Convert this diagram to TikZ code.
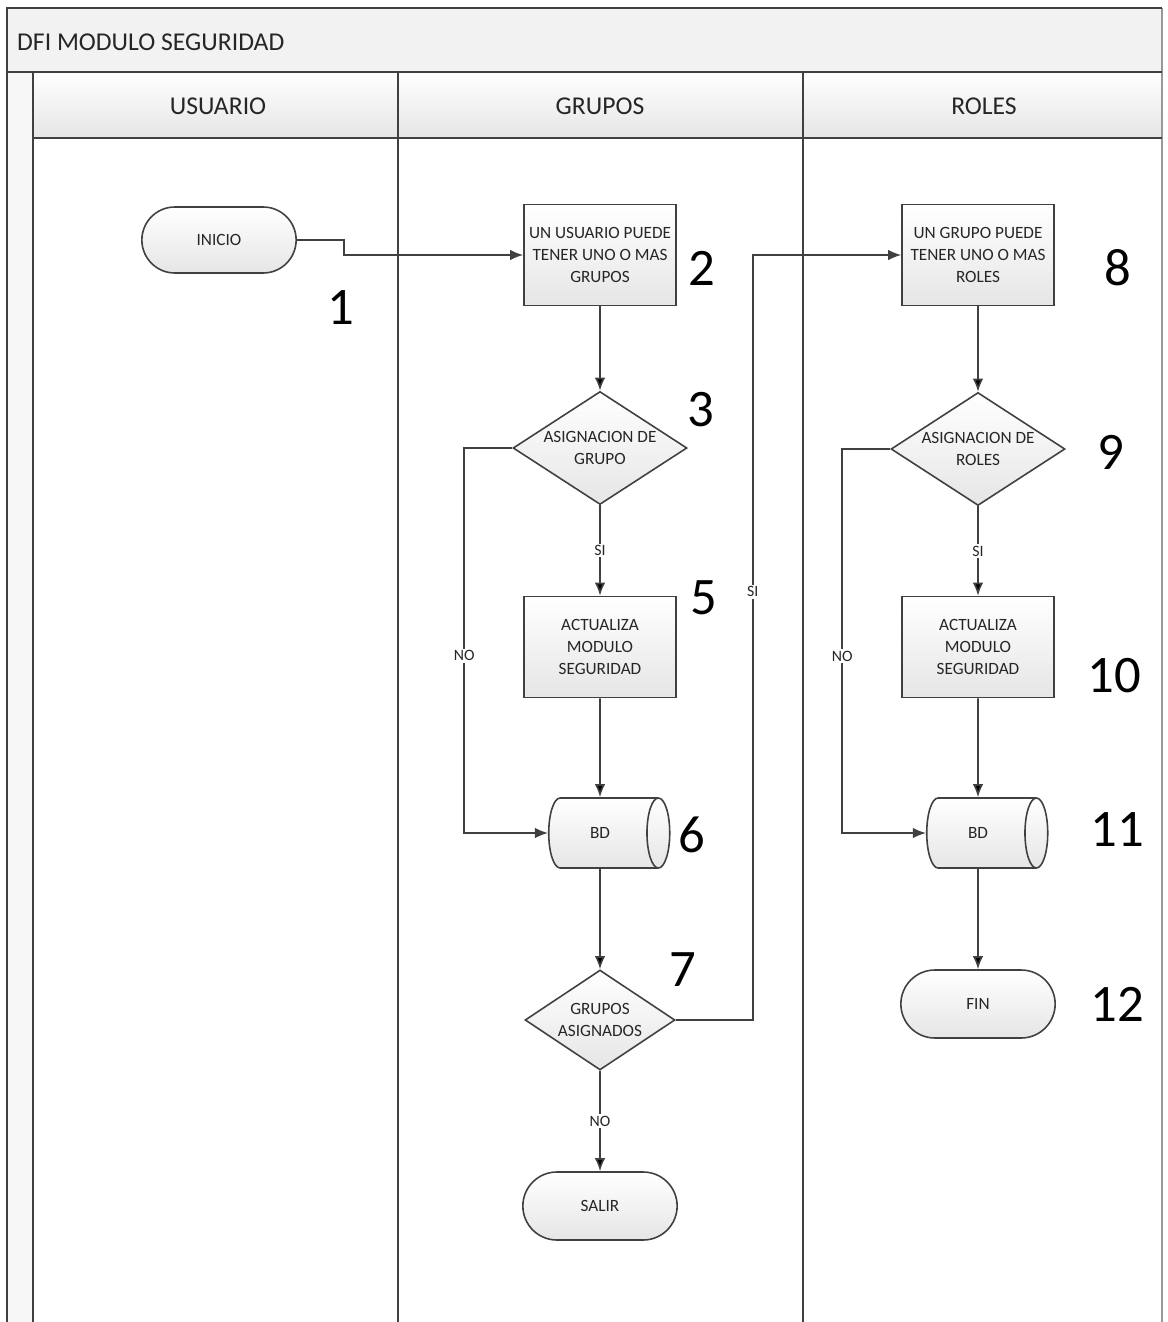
\documentclass[tikz,border=0pt]{standalone}
\usepackage{fontspec}
\setmainfont{Carlito}
\usetikzlibrary{arrows.meta,shapes.geometric,shapes.misc,positioning}

\begin{document}
\begin{tikzpicture}[>={Latex[length=2.6mm,width=2.1mm]}, node distance=3.8cm,
    base/.style={draw=black!75, line width=0.9pt, text=black!85, font=\fontsize{9.8}{12.5}\selectfont, align=center, top color=white, bottom color=black!10},
    proc/.style={base, rectangle, minimum width=3.04cm, minimum height=2.02cm, inner sep=1pt},
    decide/.style={base, diamond, aspect=1.54, minimum width=3.48cm, minimum height=2.26cm, inner sep=0pt},
    term/.style={base, rounded rectangle, minimum width=3.32cm, minimum height=1.32cm},
    store/.style={base, cylinder, shape aspect=1.0, minimum height=2.42cm, minimum width=1.4cm},
    num/.style={font=\fontsize{30}{30}\selectfont},
    lane/.style={text=black!85, font=\fontsize{14.6}{16}\selectfont},
    flow/.style={->, draw=black!75, line width=0.9pt},
    tag/.style={fill=white, inner sep=1pt, text=black!85, font=\fontsize{9}{10}\selectfont}]

    \useasboundingbox (0,0) rectangle (23.34,-26.44);

    % pool and lanes
    \fill[black!5]  (0.14,-0.16) rectangle (23.24,-1.44);
    \fill[black!3]  (0.14,-1.44) rectangle (0.66,-26.6);
    \shade[top color=white, bottom color=black!10] (0.66,-1.44) rectangle (23.24,-2.76);
    \draw[black!40, line width=1pt] (23.24,-0.16) -- (23.24,-26.6);
    \draw[black!75, line width=1pt] (0.14,-26.6) |- (23.24,-0.16)
                                    (0.14,-1.44) -- (23.24,-1.44)
                                    (0.66,-2.76) -- (23.24,-2.76)
                                    (0.66,-1.44) -- (0.66,-26.6)
                                    (7.96,-1.44) -- (7.96,-26.6)
                                    (16.06,-1.44) -- (16.06,-26.6);

    \node[lane, anchor=west] (titulo) at (0.22,-0.84) {DFI MODULO SEGURIDAD};
    \node[lane]              (hUsr)   at (4.36,-2.12)  {USUARIO};
    \node[lane]              (hGrp)   at (12.0,-2.12)  {GRUPOS};
    \node[lane]              (hRol)   at (19.68,-2.12) {ROLES};

    % flow
    \node[term]   (ini)   at (4.38,-4.80)                          {INICIO};
    \node[proc]   (grp)   at (12.0,-5.10)                          {UN USUARIO PUEDE\\TENER UNO O MAS\\GRUPOS};
    \node[decide] (asig)  [below of=grp, node distance=3.86cm]     {ASIGNACION DE\\GRUPO};
    \node[proc]   (act)   [below of=asig, node distance=3.98cm]    {ACTUALIZA\\MODULO\\SEGURIDAD};
    \node[store]  (bdg)   [below of=act, node distance=3.72cm]     {BD};
    \node[decide, minimum width=3cm, minimum height=2cm]
                  (gasig) [below of=bdg, node distance=3.74cm]     {GRUPOS\\ASIGNADOS};
    \node[term, minimum height=1.36cm]
                  (salir) [below of=gasig, node distance=3.72cm]   {SALIR};

    \node[proc]   (rol)   at (19.56,-5.10)                         {UN GRUPO PUEDE\\TENER UNO O MAS\\ROLES};
    \node[decide] (asr)   [below of=rol, node distance=3.88cm]     {ASIGNACION DE\\ROLES};
    \node[proc]   (actr)  [below of=asr, node distance=3.96cm]     {ACTUALIZA\\MODULO\\SEGURIDAD};
    \node[store]  (bdr)   [below of=actr, node distance=3.72cm]    {BD};
    \node[term, minimum height=1.36cm]
                  (fin)   [below of=bdr, node distance=3.42cm]     {FIN};

    % step numbers
    \node[num] (n1)  at (6.82,-6.16)   {1};
    \node[num] (n2)  at (14.04,-5.36)  {2};
    \node[num] (n3)  at (14.02,-8.20)  {3};
    \node[num] (n5)  at (14.08,-11.96) {5};
    \node[num] (n6)  at (13.84,-16.70) {6};
    \node[num] (n7)  at (13.66,-19.40) {7};
    \node[num] (n8)  at (22.36,-5.36)  {8};
    \node[num] (n9)  at (22.22,-9.04)  {9};
    \node[num] (n10) at (22.28,-13.52) {10};
    \node[num] (n11) at (22.34,-16.60) {11};
    \node[num] (n12) at (22.34,-20.08) {12};

    \draw[flow] (ini.east) -- ++(0.94,0) |- (grp.west);
    \path[flow] (grp)   edge                   (asig)
                (asig)  edge node[tag] {SI}    (act)
                (act)   edge                   (bdg)
                (bdg)   edge                   (gasig)
                (gasig) edge node[tag] {NO}    (salir);
    \draw[flow] (asig.west) -- ++(-0.96,0) |- node[tag, pos=0.27] {NO} (bdg.west);
    \draw[flow] (gasig.east) -- ++(1.54,0) |- node[tag, pos=0.28] {SI} (rol.west);

    \path[flow] (rol)   edge                   (asr)
                (asr)   edge node[tag] {SI}    (actr)
                (actr)  edge                   (bdr)
                (bdr)   edge                   (fin);
    \draw[flow] (asr.west) -- ++(-0.96,0) |- node[tag, pos=0.27] {NO} (bdr.west);

\end{tikzpicture}
\end{document}
